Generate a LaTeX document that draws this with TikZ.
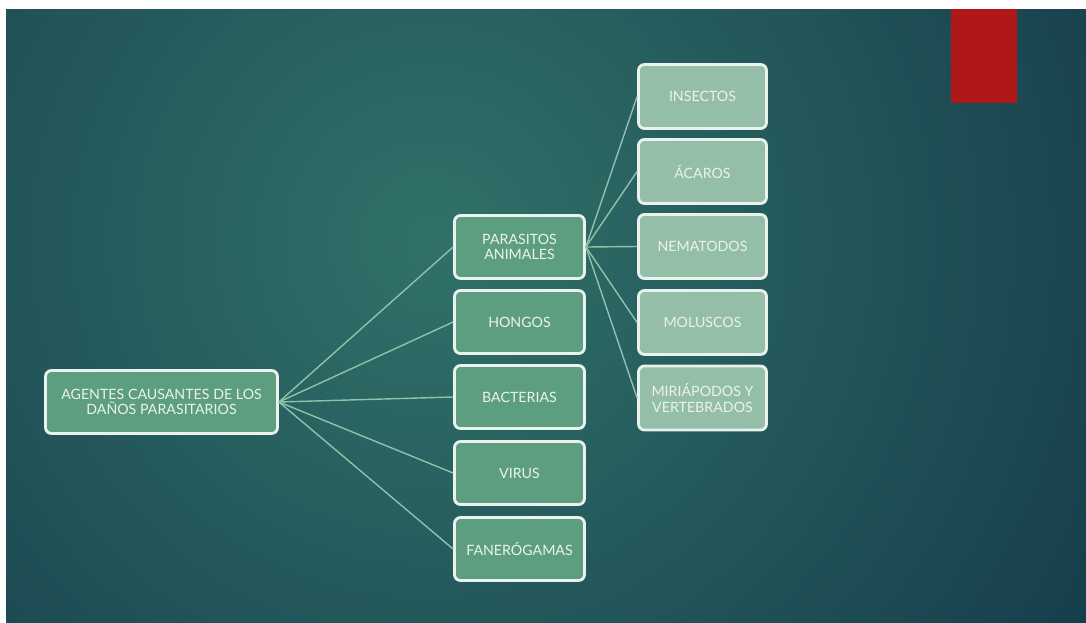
\documentclass[tikz,border=0pt]{standalone}
\usepackage{fontspec}
\setmainfont{Lato}
\definecolor{bgin}{HTML}{317169}
\definecolor{bgout}{HTML}{143A4A}
\definecolor{midfill}{HTML}{5E9E80}
\definecolor{leaffill}{HTML}{94BEA7}
\definecolor{boxline}{HTML}{E9F2EC}
\definecolor{txt}{HTML}{EAF3EE}
\definecolor{conn}{HTML}{8FC2A9}
\definecolor{slidered}{HTML}{B01717}
\tikzset{
  box/.style={draw=boxline, line width=2.8pt, rounded corners=6pt, align=center,
    text=txt, inner sep=2pt, font=\fontsize{14.2}{15.5}\selectfont},
  midbox/.style={box, fill=midfill, minimum width=130pt, minimum height=63pt},
  leafbox/.style={box, fill=leaffill, minimum width=128pt, minimum height=64pt},
  rootbox/.style={box, fill=midfill, minimum width=232pt, minimum height=63pt},
  link/.style={draw=conn, line width=1.4pt}
}
\begin{document}
\begin{tikzpicture}[x=1pt,y=-1pt]
\useasboundingbox (0,0) rectangle (1086,622);
\fill[white] (0,0) rectangle (1086,622);
\begin{scope}
\clip (6,9) rectangle (1086,622);
\fill[bgout] (6,9) rectangle (1086,622);
\shade[inner color=bgin, outer color=bgout] (430,240) circle (820);
\end{scope}
\fill[slidered] (951,9) rectangle (1017,103);

\node[rootbox] (root) at (161.5,402) {AGENTES CAUSANTES DE LOS\\DAÑOS PARASITARIOS};

\node[midbox] (par) at (519.5,247) {PARASITOS\\ANIMALES};
\node[midbox] (hon) at (519.5,322) {HONGOS};
\node[midbox] (bac) at (519.5,397) {BACTERIAS};
\node[midbox] (vir) at (519.5,473) {VIRUS};
\node[midbox] (fan) at (519.5,549) {FANERÓGAMAS};

\node[leafbox] (ins) at (702.5,96.5) {INSECTOS};
\node[leafbox] (aca) at (702.5,171.5) {ÁCAROS};
\node[leafbox] (nem) at (702.5,246.5) {NEMATODOS};
\node[leafbox] (mol) at (702.5,322.5) {MOLUSCOS};
\node[leafbox] (mir) at (702.5,398) {MIRIÁPODOS Y\\VERTEBRADOS};

\foreach \t in {par,hon,bac,vir,fan}
  \draw[link] (root.east) -- (\t.west);
\foreach \t in {ins,aca,nem,mol,mir}
  \draw[link] (par.east) -- (\t.west);
\end{tikzpicture}
\end{document}
